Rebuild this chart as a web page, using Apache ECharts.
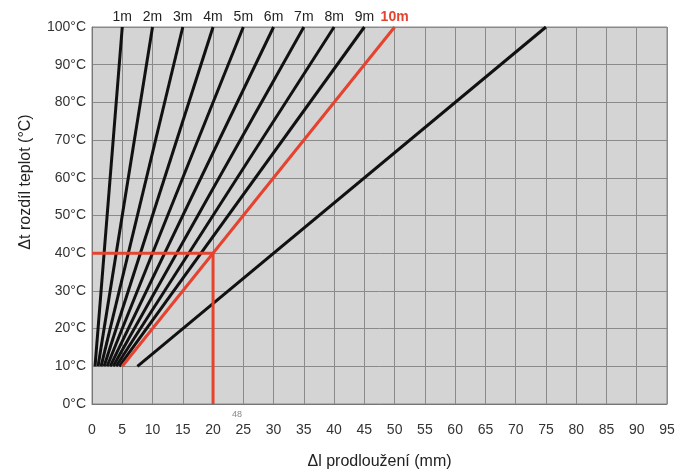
<!DOCTYPE html>
<html>
<head>
<meta charset="utf-8">
<script src="https://cdn.jsdelivr.net/npm/echarts@6/dist/echarts.min.js"></script>
<style>
  html, body { margin: 0; padding: 0; background: #fff; }
  #chart { width: 683px; height: 475px; }
</style>
</head>
<body>
<div id="chart"></div>
<script>
// pipe lengths and the elongation read at 10 °C and 100 °C
const lengthLabels = ['1m', '2m', '3m', '4m', '5m', '6m', '7m', '8m', '9m', '10m', '']
const startX = [0.5, 1, 1.5, 2, 2.5, 3, 3.5, 4, 4.5, 5, 7.5]
const endX = [5, 10, 15, 20, 25, 30, 35, 40, 45, 50, 75]
const startDt = 10
const endDt = 100

// red reading example
const guideX = [0, 20, 20]
const guideY = [40, 40, 0]

const font = '"Liberation Sans", Arial, sans-serif'
const red = '#e5432f'

const chart = echarts.init(document.getElementById('chart'))

const series = lengthLabels.map((name, i) => {
  const isRed = name === '10m'
  return {
    name: name || '15m',
    type: 'line',
    symbol: 'circle',
    symbolSize: 0,
    showSymbol: true,
    clip: false,
    z: isRed ? 4 : 3,
    lineStyle: { color: isRed ? red : '#111', width: 3 },
    itemStyle: { color: isRed ? red : '#111' },
    data: [
      { value: [startX[i], startDt], label: { show: false } },
      {
        value: [endX[i], endDt],
        label: {
          show: !!name,
          position: 'top',
          distance: 3,
          formatter: name,
          color: isRed ? red : '#222',
          fontWeight: isRed ? 'bold' : 'normal',
          fontSize: 14,
          fontFamily: font
        }
      }
    ],
    animation: false
  }
})

series.push({
  name: 'guide',
  type: 'line',
  symbol: 'none',
  z: 5,
  lineStyle: { color: red, width: 3 },
  data: guideX.map((x, i) => [x, guideY[i]]),
  animation: false
})

chart.setOption({
  grid: {
    left: 92,
    right: 16,
    top: 27,
    bottom: 70,
    show: true,
    backgroundColor: '#d4d4d4',
    borderColor: '#888',
    borderWidth: 1
  },
  xAxis: {
    type: 'value',
    min: 0,
    max: 95,
    interval: 5,
    name: 'Δl prodloužení (mm)',
    nameLocation: 'middle',
    nameGap: 50,
    nameTextStyle: { fontSize: 16, color: '#222', fontFamily: font },
    axisLine: { lineStyle: { color: '#777' } },
    axisTick: { show: false },
    axisLabel: { fontSize: 14, color: '#333', fontFamily: font, margin: 19 },
    splitLine: { lineStyle: { color: '#8a8a8a', width: 1 } }
  },
  yAxis: {
    type: 'value',
    min: 0,
    max: 100,
    interval: 10,
    axisLine: { show: true, lineStyle: { color: '#777' } },
    axisTick: { show: false },
    axisLabel: { fontSize: 14, color: '#333', fontFamily: font, margin: 6, formatter: '{value}°C' },
    splitLine: { lineStyle: { color: '#8a8a8a', width: 1 } }
  },
  graphic: [
    {
      type: 'text',
      x: 26,
      y: 182,
      rotation: Math.PI / 2,
      style: {
        text: 'Δt rozdíl teplot (°C)',
        fontSize: 16,
        fontFamily: font,
        fill: '#222',
        align: 'center',
        verticalAlign: 'middle'
      }
    },
    {
      type: 'text',
      x: 237,
      y: 415,
      style: {
        text: '48',
        fontSize: 9,
        fontFamily: font,
        fill: '#888',
        align: 'center',
        verticalAlign: 'middle'
      }
    }
  ],
  series
})
</script>
</body>
</html>
